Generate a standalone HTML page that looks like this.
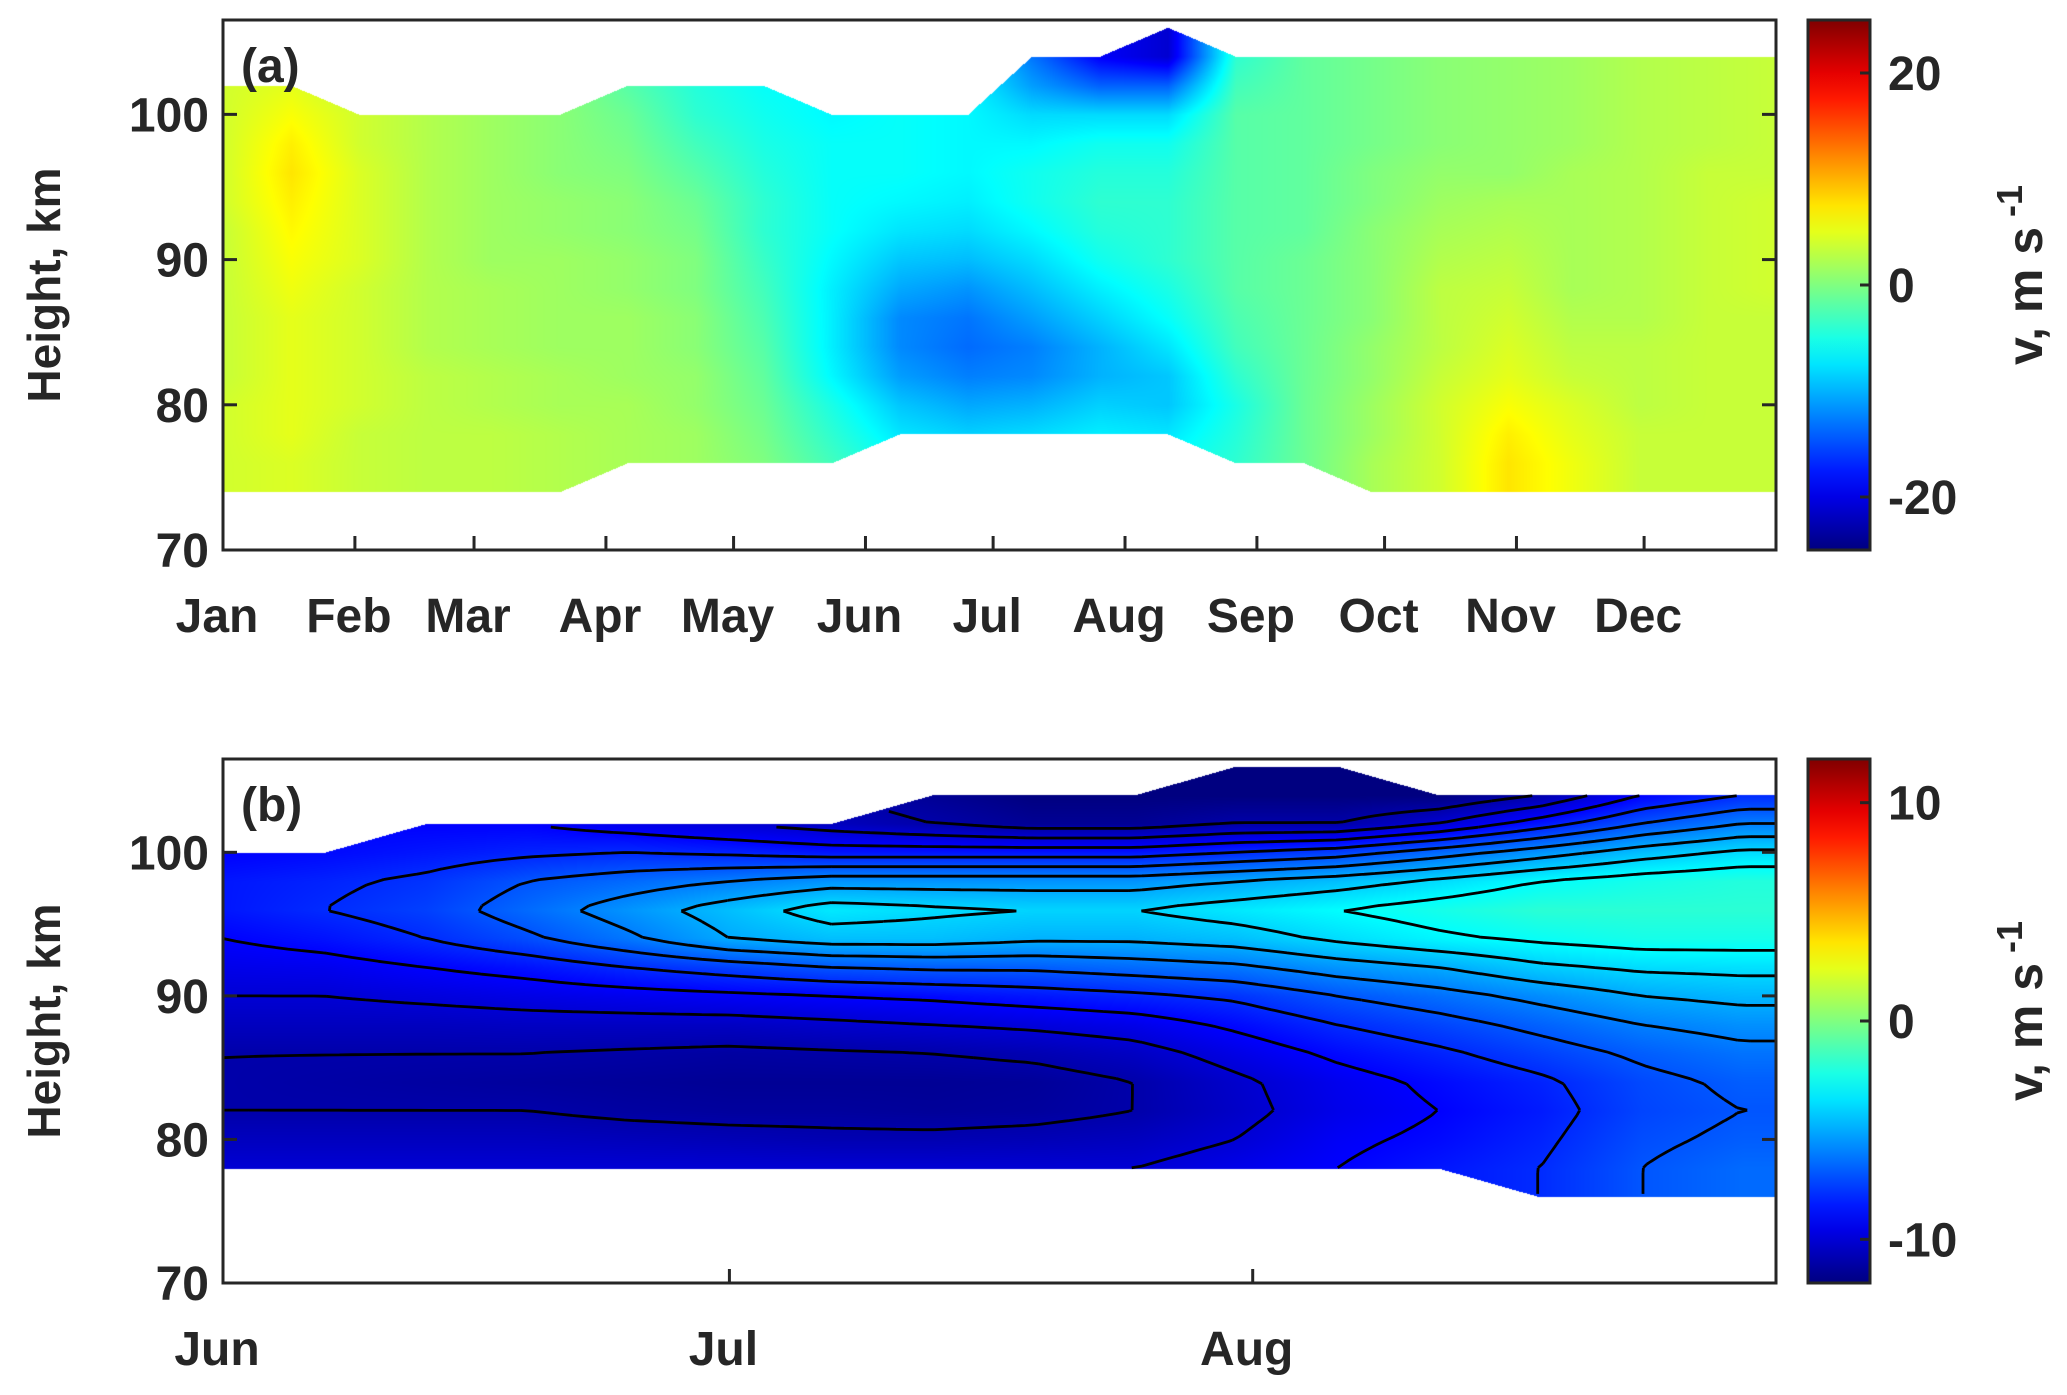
<!DOCTYPE html>
<html><head><meta charset="utf-8"><style>
body{margin:0;background:#fff;width:2067px;height:1395px;overflow:hidden;position:relative;font-family:"Liberation Sans",sans-serif}
canvas{position:absolute}
svg{position:absolute;left:0;top:0}
</style></head><body>
<canvas id="ca" width="1553" height="530" style="left:223px;top:20px"></canvas>
<canvas id="cb" width="1553" height="524" style="left:223px;top:759px"></canvas>
<svg id="s" width="2067" height="1395"></svg>
<script>
// ---- Panel (a) data ----
const aHeights=[74,76,78,80,82,84,86,88,90,92,94,96,98,100,102,104];
const aDays=[0,16,32,48,63,79,95,111,127,143,159,175,190,206,222,238,254,270,286,302,317,333,349,365];
const aCol0=[4,4,4,4,3.5,3.5,3.5,3.5,3.5,3.5,4,4,4,4,4,4];
const aCol1=[4.5,4.5,5,5,5,5,5,5.5,6,6.5,7,7.5,7,6,5,4];
const aCol2=[3.5,3.5,3.5,4,4,4,4,4,4.5,4.5,4.5,4.5,4,4,3,3];
const aCol3=[3,3,3,3,3,2.5,2.5,2.5,2.5,2.5,2.5,2.5,2.5,2.5,2.5,2.5];
const aCol4=[3,3,3,2.5,2.5,2,2,2,1.5,1.5,1.5,1.5,1.5,1.5,1.5,1.5];
const aCol5=[2.5,2.5,2.5,2,2,1.5,1.5,1.5,1.5,1,1,0.5,0.5,0.5,0.5,0.5];
const aCol6=[2,2,2,2,1.5,1.5,1.5,1,1,0.5,0.5,0,-0.5,-1,-2,-2];
const aCol7=[1.5,1.5,1.5,1,1,0.5,0.5,0,0,-0.5,-1,-2,-3,-4,-4.5,-4.5];
const aCol8=[0,0,-0.5,-1,-1.5,-2,-2.5,-3,-3.5,-4,-4,-4.5,-5,-5.5,-6,-6];
const aCol9=[-3,-3,-4,-5,-6.5,-7,-7,-7,-6.5,-6,-6,-6,-6,-6.5,-6.5,-6.5];
const aCol10=[-6,-6,-7.5,-9,-11,-12,-12,-10.5,-9,-7.5,-6.5,-6,-6,-6,-6,-6];
const aCol11=[-7,-7,-8.5,-10.5,-12.5,-13.5,-13,-11.5,-9.5,-8,-7,-6.5,-6.5,-6.5,-6.5,-6.5];
const aCol12=[-7,-7,-8,-10,-12,-12.5,-11,-9.5,-8,-6.5,-5.5,-5.5,-6.5,-8,-11,-13];
const aCol13=[-6,-6,-7,-8.5,-10,-10,-8.5,-7,-5.5,-4.5,-4,-4.5,-5.5,-8,-14,-19];
const aCol14=[-6,-6,-7.5,-9,-9,-7.5,-6,-5,-4,-4,-4,-4.5,-5.5,-8,-14,-21];
const aCol15=[-4,-4,-4.5,-5,-4,-3,-2.5,-2,-2,-2,-2,-2,-2,-2,-3,-4];
const aCol16=[-1,-1,-1,-1,-1,-1,-1,-1,-1,-1.5,-1.5,-1.5,-1.5,-1.5,-1.5,-1.5];
const aCol17=[2,2,1.5,1.5,1,1,0.5,0.5,0.5,0.5,0,0,-0.5,-0.5,-0.5,-0.5];
const aCol18=[4,4,4,4,3.5,3,3,3,2.5,2,1.5,1,0.5,0.5,0.5,0.5];
const aCol19=[7.5,7.5,7,6,5,4.5,4,3.5,3,2.5,2,1,1,1,1,1];
const aCol20=[5.5,5.5,5,4.5,3.5,3,2.5,2,2,2,2,2,1.5,1.5,1.5,1.5];
const aCol21=[3.5,3.5,3.5,3,3,3,2.5,2.5,2.5,2.5,2.5,2.5,2.5,2.5,2.5,2.5];
const aCol22=[3.5,3.5,3.5,3.5,3.5,3.5,3.5,3.5,3.5,3.5,3.5,3.5,3,3,3,3];
const aCol23=[3.5,3.5,3.5,3.5,3.5,3.5,3.5,4,4,4,4,3.5,3.5,3.5,3.5,3.5];
const aBottom=[74,74,74,74,74,74,76,76,76,76,78,78,78,78,78,76,76,74,74,74,74,74,74,74];
const aTop=[102,102,100,100,100,100,102,102,102,100,100,100,104,104,106,104,104,104,104,104,104,104,104,104];
const aMonths=["Jan","Feb","Mar","Apr","May","Jun","Jul","Aug","Sep","Oct","Nov","Dec"];
const aMonthDays=[0,31,59,90,120,151,181,212,243,273,304,334];
const aYTicks=[70,80,90,100];
const aCbTicks=[20,0,-20];
// ---- Panel (b) data ----
const bHeights=[76,78,80,82,84,86,88,90,92,94,96,98,100,102,104,106];
const bDays=[0,6,12,18,24,30,36,42,48,54,60,66,72,78,84,90];
const bCol0=[-10,-10,-10.5,-11,-11,-11,-10.5,-10,-9.5,-9,-8.5,-8.5,-9,-9,-9,-9];
const bCol1=[-10,-10,-10.5,-11,-11.1,-11,-10.5,-10,-9.4,-8.6,-8,-8.2,-8.8,-9,-9,-9];
const bCol2=[-10,-10,-10.5,-11,-11.2,-11,-10.5,-9.8,-9,-8,-7.5,-7.8,-8.5,-9,-9,-9];
const bCol3=[-10,-10,-10.5,-11,-11.3,-11,-10.4,-9.6,-8.6,-7.2,-6.5,-7,-8.2,-9,-9,-9];
const bCol4=[-10,-10,-10.6,-11.2,-11.4,-11.1,-10.4,-9.4,-8,-6.2,-5.5,-6.5,-8,-9.5,-10,-10];
const bCol5=[-10,-10,-10.7,-11.3,-11.5,-11.2,-10.4,-9.2,-7.5,-5,-4.5,-6,-8.2,-10,-10.5,-10.5];
const bCol6=[-10,-10,-10.8,-11.3,-11.5,-11.1,-10.2,-9,-7,-4.5,-3.5,-5.5,-8.5,-10.5,-11,-11];
const bCol7=[-10,-10,-10.8,-11.4,-11.5,-11,-10,-8.8,-6.8,-4.5,-3.8,-5.5,-8.5,-11,-11.5,-11.5];
const bCol8=[-10,-10,-10.7,-11.3,-11.4,-10.8,-9.8,-8.5,-6.8,-4.8,-4,-5.5,-8.5,-11.5,-12,-12];
const bCol9=[-10,-10,-10.5,-11,-11,-10.4,-9.5,-8.2,-6.5,-4.8,-4,-5.5,-8.5,-11.5,-12,-12];
const bCol10=[-9.5,-9.5,-10,-10.3,-10.2,-9.6,-8.8,-7.8,-6.2,-4.5,-3.5,-5,-8,-11,-12,-12];
const bCol11=[-9,-9,-9.2,-9.5,-9.4,-8.8,-8,-7,-5.5,-3.8,-3,-4.5,-7.5,-11,-12,-12];
const bCol12=[-8.5,-8.5,-8.8,-9,-8.8,-8.2,-7.4,-6.4,-5,-3.2,-2.5,-3.8,-6.5,-10,-12,-12];
const bCol13=[-8,-8,-8.2,-8.4,-8.2,-7.5,-6.7,-5.7,-4.2,-2.8,-2,-3,-5.5,-8.5,-11,-11];
const bCol14=[-7,-7,-7.2,-7.4,-7.3,-6.8,-6,-5,-3.8,-2.5,-2,-2.5,-4.5,-7,-9,-9];
const bCol15=[-6.5,-6.5,-6.8,-7,-6.8,-6.3,-5.6,-4.7,-3.7,-2.5,-2,-2.2,-3.8,-6,-8,-8];
const bBottom=[78,78,78,78,78,78,78,78,78,78,78,78,78,76,76,76];
const bTop=[100,100,102,102,102,102,102,104,104,104,106,106,104,104,104,104];
const bMonths=["Jun","Jul","Aug"];
const bMonthDays=[0,30,61];
const bYTicks=[70,80,90,100];
const bCbTicks=[10,0,-10];
const bLevels=[-12,-11,-10,-9,-8,-7,-6,-5,-4,-3,-2];

const aCols=[aCol0,aCol1,aCol2,aCol3,aCol4,aCol5,aCol6,aCol7,aCol8,aCol9,aCol10,aCol11,aCol12,aCol13,aCol14,aCol15,aCol16,aCol17,aCol18,aCol19,aCol20,aCol21,aCol22,aCol23];
const bCols=[bCol0,bCol1,bCol2,bCol3,bCol4,bCol5,bCol6,bCol7,bCol8,bCol9,bCol10,bCol11,bCol12,bCol13,bCol14,bCol15];

function jet(f){f=Math.max(0,Math.min(1,f));
 const c=x=>Math.max(0,Math.min(1,x));
 return [c(1.5-Math.abs(4*f-3)),c(1.5-Math.abs(4*f-2)),c(1.5-Math.abs(4*f-1))].map(v=>Math.round(v*255));}

function panel(cfg){
 const {L,T,W,H,days,heights,cols,bot,top,dmax,vmax,yTicks,months,mdays,cbTicks,label,key}=cfg;
 const x=d=>L+d/dmax*W, y=h=>T+H-(h-70)/36.5*H;
 const interp=(arr,xs,v)=>{let i=0;while(i<xs.length-2&&v>xs[i+1])i++;let f=(v-xs[i])/(xs[i+1]-xs[i]);f=Math.max(0,Math.min(1,f));return [i,f];};
 const val=(d,h)=>{const [i,fi]=interp(null,days,d);const [j,fj]=interp(null,heights,h);
  const a=cols[i][j]*(1-fj)+cols[i][j+1]*fj, b=cols[i+1][j]*(1-fj)+cols[i+1][j+1]*fj;return a*(1-fi)+b*fi;};
 const lim=(arr,d)=>{const [i,f]=interp(null,days,d);return arr[i]*(1-f)+arr[i+1]*f;};
 const cv=document.getElementById(key),ctx=cv.getContext('2d'),img=ctx.createImageData(W,H);
 for(let px=0;px<W;px++){const d=px/W*dmax;const lb=lim(bot,d),lt=lim(top,d);
  for(let py=0;py<H;py++){const h=70+(H-py)/H*36.5;if(h<lb||h>lt)continue;
   const c=jet((val(d,h)+vmax)/(2*vmax));const k=(py*W+px)*4;img.data[k]=c[0];img.data[k+1]=c[1];img.data[k+2]=c[2];img.data[k+3]=255;}}
 ctx.putImageData(img,0,0);
 const s=document.getElementById('s');const NS='http://www.w3.org/2000/svg';
 const mk=(t,at,txt)=>{const e=document.createElementNS(NS,t);for(const k in at)e.setAttribute(k,at[k]);if(txt!==undefined)e.textContent=txt;s.appendChild(e);return e;};
 if(cfg.levels){const g=document.createElementNS(NS,'g');s.appendChild(g);
  
  
  const nx=120,ny=100;let dstr='';
  const gx=i=>i/nx*dmax, gy=j=>70+j/ny*36.5;
  for(const lv of cfg.levels){
   for(let i=0;i<nx;i++)for(let j=0;j<ny;j++){
    const d0=gx(i),d1=gx(i+1),h0=gy(j),h1=gy(j+1);
    const ok=(d,h)=>h>=lim(bot,d)&&h<=lim(top,d);
    if(!ok(d0,h0)||!ok(d1,h0)||!ok(d0,h1)||!ok(d1,h1))continue;
    const v=[val(d0,h0),val(d1,h0),val(d1,h1),val(d0,h1)];
    const P=[[d0,h0],[d1,h0],[d1,h1],[d0,h1]];const pts=[];
    for(let e=0;e<4;e++){const a=v[e],b=v[(e+1)%4];if((a<lv)!==(b<lv)){const f=(lv-a)/(b-a);const A=P[e],B=P[(e+1)%4];pts.push([x(A[0]+(B[0]-A[0])*f),y(A[1]+(B[1]-A[1])*f)]);}}
    if(pts.length>=2)dstr+=`M${pts[0][0].toFixed(1)},${pts[0][1].toFixed(1)}L${pts[1][0].toFixed(1)},${pts[1][1].toFixed(1)}`;
    if(pts.length==4)dstr+=`M${pts[2][0].toFixed(1)},${pts[2][1].toFixed(1)}L${pts[3][0].toFixed(1)},${pts[3][1].toFixed(1)}`;
   }}
  const p=document.createElementNS(NS,'path');p.setAttribute('d',dstr);p.setAttribute('stroke','#000');p.setAttribute('stroke-width','2.8');p.setAttribute('fill','none');g.appendChild(p);}
 let e=mk('rect',{x:L,y:T,width:W,height:H,fill:'none',stroke:'#262626',"stroke-width":3});
 
 
 yTicks.forEach(t=>{mk('line',{x1:L,x2:L+14,y1:y(t),y2:y(t),stroke:'#262626',"stroke-width":3});
  mk('line',{x1:L+W,x2:L+W-14,y1:y(t),y2:y(t),stroke:'#262626',"stroke-width":3});
  const tx=mk('text',{x:L-14,y:y(t)+17,"text-anchor":"end","font-size":48,"font-weight":"bold",fill:'#262626'},t);
  
  });
 months.forEach((m,i)=>{const xx=x(mdays[i]);
  mk('line',{x1:xx,x2:xx,y1:T+H,y2:T+H-14,stroke:'#262626',"stroke-width":3});
  const tx=mk('text',{x:xx-6,y:T+H+82,"text-anchor":"middle","font-size":48,"font-weight":"bold",fill:'#262626'},m);
  
  });
 const yl=mk('text',{x:0,y:0,transform:`translate(60,${T+H/2}) rotate(-90)`,"text-anchor":"middle","font-size":46,"font-weight":"bold",fill:'#262626'},'Height, km');
 
 
 const pl=mk('text',{x:L+18,y:T+62,"font-size":48,"font-weight":"bold",fill:'#262626'},label==='panel-a'?'(a)':'(b)');
 
 
 const cbx=1808,cbw=62;const gid='g'+key;
 const defs=mk('defs',{});const lg=document.createElementNS(NS,'linearGradient');lg.setAttribute('id',gid);lg.setAttribute('x1',0);lg.setAttribute('y1',1);lg.setAttribute('x2',0);lg.setAttribute('y2',0);defs.appendChild(lg);
 for(let k=0;k<=20;k++){const st=document.createElementNS(NS,'stop');const c=jet(k/20);st.setAttribute('offset',k/20);st.setAttribute('stop-color',`rgb(${c})`);lg.appendChild(st);}
 const cb=mk('rect',{x:cbx,y:T,width:cbw,height:H,fill:`url(#${gid})`,stroke:'#262626',"stroke-width":3});
 
 
 const cy=v=>T+H-(v+vmax)/(2*vmax)*H;
 cbTicks.forEach(t=>{mk('line',{x1:cbx+cbw,x2:cbx+cbw-10,y1:cy(t),y2:cy(t),stroke:'#262626',"stroke-width":3});
  const tx=mk('text',{x:cbx+cbw+18,y:cy(t)+17,"font-size":48,"font-weight":"bold",fill:'#262626'},t);
  
  });
 const cl=mk('text',{x:0,y:0,transform:`translate(2042,${T+H/2-10}) rotate(-90)`,"text-anchor":"middle","font-size":50,"font-weight":"bold",fill:'#262626'});
 cl.innerHTML='v, m s<tspan dy="-20" font-size="36"> -1</tspan>';
 
 
}
panel({L:223,T:20,W:1553,H:530,days:aDays,heights:aHeights,cols:aCols,bot:aBottom,top:aTop,dmax:365,vmax:25,yTicks:aYTicks,months:aMonths,mdays:aMonthDays,cbTicks:aCbTicks,label:'panel-a',key:'ca'});
panel({L:223,T:759,W:1553,H:524,days:bDays,heights:bHeights,cols:bCols,bot:bBottom,top:bTop,dmax:92,vmax:12,yTicks:bYTicks,months:bMonths,mdays:bMonthDays,cbTicks:bCbTicks,label:'panel-b',key:'cb',levels:bLevels});
</script>
</body></html>
